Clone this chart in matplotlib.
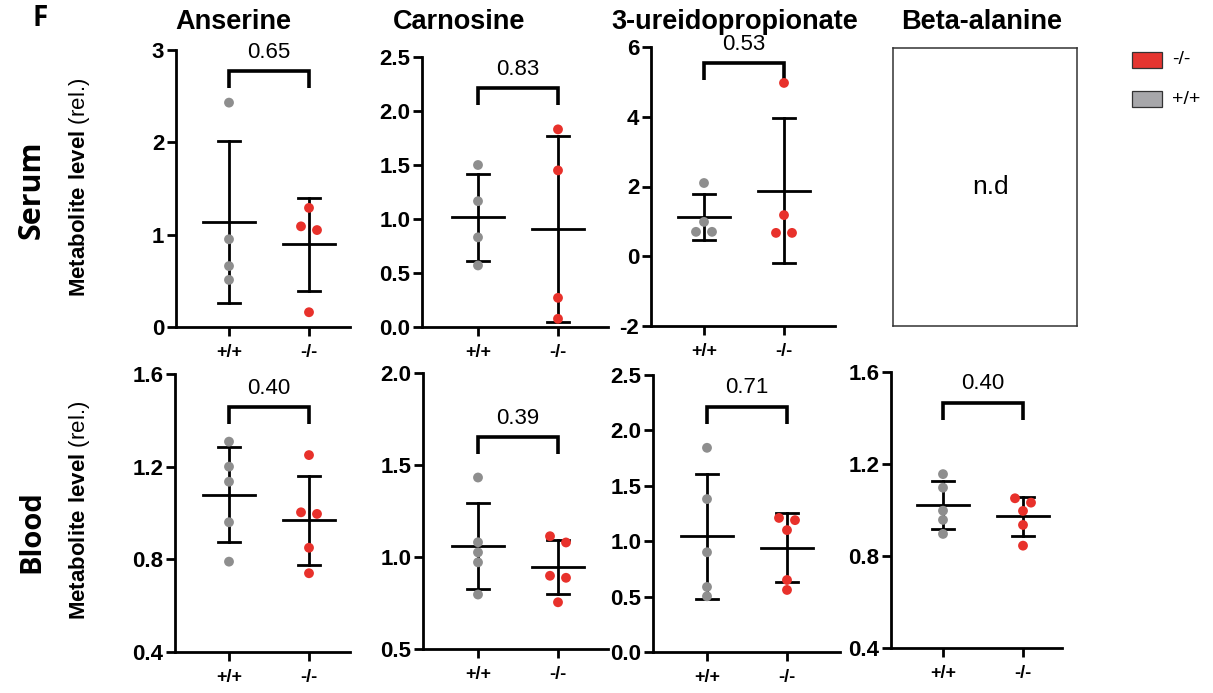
import numpy as np
import matplotlib
matplotlib.use("Agg")
import matplotlib.pyplot as plt
from matplotlib.patches import Rectangle

plt.rcParams['font.family'] = ['Liberation Sans', 'DejaVu Sans']
plt.rcParams['mathtext.fontset'] = 'custom'
plt.rcParams['mathtext.bf'] = 'Liberation Sans:bold'
plt.rcParams['mathtext.rm'] = 'Liberation Sans'

# ---------------- data ----------------
metabolites = ["Anserine", "Carnosine", "3-ureidopropionate", "Beta-alanine"]
groups = ["+/+", "-/-"]
tissues = ["Serum", "Blood"]

serum_anserine_wt = [2.43, 0.95, 0.66, 0.51]
serum_anserine_ko = [1.29, 1.09, 1.05, 0.16]
serum_carnosine_wt = [1.50, 1.165, 0.83, 0.57]
serum_carnosine_ko = [1.83, 1.45, 0.27, 0.076]
serum_ureido_wt = [2.10, 0.985, 0.70, 0.70]
serum_ureido_ko = [4.97, 1.18, 0.67, 0.67]

blood_anserine_wt = [1.308, 1.20, 1.135, 0.96, 0.79]
blood_anserine_ko = [1.25, 0.996, 1.003, 0.85, 0.74]
blood_carnosine_wt = [1.432, 1.08, 1.025, 0.971, 0.796]
blood_carnosine_ko = [1.113, 1.079, 0.898, 0.887, 0.754]
blood_ureido_wt = [1.843, 1.38, 0.90, 0.587, 0.503]
blood_ureido_ko = [1.21, 1.19, 1.10, 0.65, 0.56]
blood_betaala_wt = [1.156, 1.097, 0.997, 0.957, 0.896]
blood_betaala_ko = [1.051, 1.032, 0.996, 0.935, 0.845]

p_serum = ["0.65", "0.83", "0.53"]
p_blood = ["0.40", "0.39", "0.71", "0.40"]
bracket_serum = [2.77, 2.21, 5.54]
bracket_blood = [1.456, 1.65, 2.214, 1.466]

yticks_serum = [[0, 1, 2, 3], [0.0, 0.5, 1.0, 1.5, 2.0, 2.5], [-2, 0, 2, 4, 6]]
ydec_serum = [0, 1, 0]
yticks_blood = [[0.4, 0.8, 1.2, 1.6], [0.5, 1.0, 1.5, 2.0],
                [0.0, 0.5, 1.0, 1.5, 2.0, 2.5], [0.4, 0.8, 1.2, 1.6]]
ydec_blood = [1, 1, 1, 1]

# ---------------- style ----------------
W, H = 1213, 693
GRAY = "#8e8e8e"
RED = "#e8312b"
LW = 2.0
fig = plt.figure(figsize=(W / 100, H / 100), dpi=100)
fig.patch.set_facecolor("white")

# layout in pixels: left spine x, top, right end, bottom, first tick x
layout_serum = [(176, 50, 350, 327, 229), (422, 57, 608, 327, 478), (651, 47, 835, 326, 704)]
layout_blood = [(175, 374, 350, 652, 229), (423, 373, 608, 649, 478),
                (653, 375, 840, 652, 707), (891, 372, 1062, 648, 943)]
UNIT = 80.0


def jitter(vals, height_px, yr, thr=7.5, step=0.2):
    vals = np.asarray(vals, float)
    order = np.argsort(-vals)
    offs = np.zeros(len(vals))
    clusters = []
    cur = [order[0]]
    for i in order[1:]:
        if abs(vals[cur[-1]] - vals[i]) * height_px / yr < thr:
            cur.append(i)
        else:
            clusters.append(cur)
            cur = [i]
    clusters.append(cur)
    for c in clusters:
        k = len(c)
        for j, idx in enumerate(c):
            offs[idx] = (j - (k - 1) / 2) * step
    return offs


def panel(lay, wt, ko, yt, dec, pval, by):
    left, top, right, bottom, t0 = lay
    ax = fig.add_axes([left / W, 1 - bottom / H, (right - left) / W, (bottom - top) / H])
    ymin, ymax = yt[0], yt[-1]
    ax.set_ylim(ymin, ymax)
    ax.set_xlim((left - t0) / UNIT, (right - t0) / UNIT)
    hpx = bottom - top
    yr = ymax - ymin
    for xi, (vals, col) in enumerate([(wt, GRAY), (ko, RED)]):
        v = np.asarray(vals, float)
        m = v.mean()
        sd = v.std(ddof=1)
        ax.plot([xi, xi], [m - sd, m + sd], color="black", lw=LW, zorder=2)
        ax.plot([xi - 0.1375, xi + 0.1375], [m + sd, m + sd], color="black", lw=LW, zorder=2)
        ax.plot([xi - 0.1375, xi + 0.1375], [m - sd, m - sd], color="black", lw=LW, zorder=2)
        ax.plot([xi - 0.33, xi + 0.33], [m, m], color="black", lw=LW, zorder=2)
        ax.scatter(xi + jitter(v, hpx, yr), v, s=50, color=col, edgecolor="none", zorder=3,
                   clip_on=False)
    # bracket
    leg = 17 * yr / hpx
    ax.plot([0, 0, 1, 1], [by - leg, by, by, by - leg], color="black", lw=2.6,
            solid_joinstyle="miter", solid_capstyle="butt", zorder=2, clip_on=False)
    ax.annotate(pval, (0.5, by), xytext=(0, 6), textcoords="offset points",
                ha="center", va="bottom", fontsize=16)
    for s in ["top", "right"]:
        ax.spines[s].set_visible(False)
    for s in ["left", "bottom"]:
        ax.spines[s].set_linewidth(LW)
    ax.set_yticks(yt)
    ax.set_yticklabels([f"{t:.{dec}f}" for t in yt], fontsize=16, fontweight="bold")
    ax.set_xticks([0, 1])
    ax.set_xticklabels(groups, fontsize=13, fontweight="bold")
    ax.tick_params(axis="both", direction="out", length=6.5, width=LW, pad=2)
    ax.tick_params(axis="x", pad=6)
    ax.patch.set_alpha(0)
    return ax


serum_sets = [(serum_anserine_wt, serum_anserine_ko), (serum_carnosine_wt, serum_carnosine_ko),
              (serum_ureido_wt, serum_ureido_ko)]
blood_sets = [(blood_anserine_wt, blood_anserine_ko), (blood_carnosine_wt, blood_carnosine_ko),
              (blood_ureido_wt, blood_ureido_ko), (blood_betaala_wt, blood_betaala_ko)]

for i, (wt, ko) in enumerate(serum_sets):
    panel(layout_serum[i], wt, ko, yticks_serum[i], ydec_serum[i], p_serum[i], bracket_serum[i])
for i, (wt, ko) in enumerate(blood_sets):
    panel(layout_blood[i], wt, ko, yticks_blood[i], ydec_blood[i], p_blood[i], bracket_blood[i])

# n.d. box
axn = fig.add_axes([893 / W, 1 - 326 / H, (1077 - 893) / W, (326 - 48) / H])
axn.set_xticks([])
axn.set_yticks([])
for s in axn.spines.values():
    s.set_linewidth(1.1)
    s.set_color("#333333")
axn.text(0.53, 0.5, "n.d", ha="center", va="center", fontsize=19, transform=axn.transAxes)

# column titles
title_x = [233, 459, 735, 982]
for name, x in zip(metabolites, title_x):
    fig.text(x / W, 1 - 22 / H, name, ha="center", va="center", fontsize=19.5, fontweight="bold")

# row labels
fig.text(32 / W, 1 - 190 / H, tissues[0], rotation=90, ha="center", va="center",
         fontsize=22, fontweight="bold", family=["Open Sans", "DejaVu Sans"])
fig.text(32 / W, 1 - 532 / H, tissues[1], rotation=90, ha="center", va="center",
         fontsize=21, fontweight="bold", family=["Open Sans", "DejaVu Sans"])
fig.text(40 / W, 1 - 19 / H, "F", ha="center", va="center", fontsize=20, fontweight="bold",
         family=["Open Sans", "DejaVu Sans"])

ylab = r"$\mathbf{Metabolite\ level}$ (rel.)"
fig.text(80 / W, 1 - 187 / H, ylab, rotation=90, ha="center", va="center", fontsize=16)
fig.text(80 / W, 1 - 510 / H, ylab, rotation=90, ha="center", va="center", fontsize=16)

# legend
for (y0, col, lab) in [(52, "#e53530", groups[1]), (91, "#a7a7aa", groups[0])]:
    fig.add_artist(Rectangle((1132 / W, 1 - (y0 + 16) / H), 30 / W, 16 / H,
                             facecolor=col, edgecolor="#333333", lw=0.9,
                             transform=fig.transFigure))
    fig.text(1172 / W, 1 - (y0 + 8) / H, lab, ha="left", va="center", fontsize=14)

fig.savefig("out.png", dpi=100, facecolor="white")
